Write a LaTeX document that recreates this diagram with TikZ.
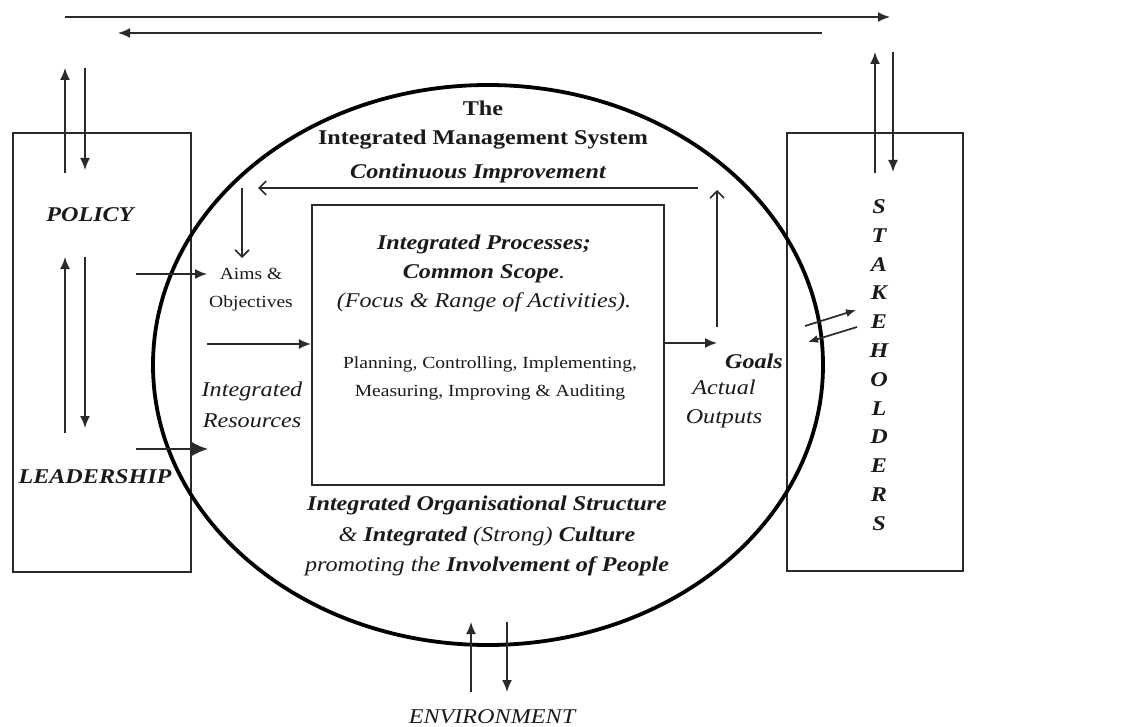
\documentclass[tikz,border=0pt]{standalone}
\usepackage{fontspec}
\setmainfont{Liberation Serif}[FakeStretch=1.15]
\usetikzlibrary{arrows.meta,shapes.geometric}
\newcommand\dgBig{\fontsize{21}{29}\selectfont}
\newcommand\dgSmall{\fontsize{17}{28}\selectfont}
\definecolor{ink}{HTML}{1A1A1A}
\definecolor{lin}{HTML}{2A2A2A}
\tikzset{
  ln/.style={line width=1.7pt, draw=lin},
  fa/.style={ln, -{Latex[length=12pt,width=10pt]}},
  oa/.style={ln, -{Straight Barb[length=7pt,width=14pt,line width=1.6pt]}},
  txt/.style={text=ink, inner sep=0pt, align=center},
}
\begin{document}
\begin{tikzpicture}[x=1pt,y=-1pt]
\useasboundingbox (0,0) rectangle (1139,727);
% boxes
\node[draw=lin, line width=2.2pt, minimum width=178pt, minimum height=439pt, inner sep=0pt] (lbox) at (102,352.5) {};
\node[draw=lin, line width=2.2pt, minimum width=176pt, minimum height=438pt, inner sep=0pt] (rbox) at (875,352) {};
\node[draw=lin, line width=2.2pt, minimum width=352pt, minimum height=280pt, inner sep=0pt] (ibox) at (488,345) {};
\node[draw=black, ellipse, line width=3.8pt, minimum width=670pt, minimum height=560pt, inner sep=0pt] (ims) at (488,365) {};
% texts
\node[txt, font=\dgBig\bfseries] (title) at (483,125) {The\\Integrated Management System};
\node[txt, font=\dgBig\bfseries\itshape] (ci) at (478,173) {Continuous Improvement};
\node[txt, font=\dgBig] (proc) at (484,273) {\textbf{\textit{Integrated Processes;}}\\\textbf{\textit{Common Scope}}\textit{.}\\\textit{(Focus \& Range of Activities).}};
\node[txt, font=\dgSmall] (plan) at (490,378) {Planning, Controlling, Implementing,\\Measuring, Improving \& Auditing};
\node[txt, font=\dgBig\bfseries\itshape] (policy) at (90,215) {POLICY};
\node[txt, font=\dgBig\bfseries\itshape] (lead) at (95,477) {LEADERSHIP};
\node[txt, font=\dgSmall] (aims) at (251,290) {Aims \&\\Objectives};
\node[txt, font=\fontsize{21}{31}\selectfont\itshape] (ires) at (252,405) {Integrated\\Resources};
\node[txt, font=\dgBig\bfseries\itshape] (goals) at (754,361) {Goals};
\node[txt, font=\dgBig\itshape] (actual) at (724,404) {Actual\\Outputs};
\node[txt, font=\fontsize{21}{28.8}\selectfont\bfseries\itshape] (stake) at (879,365) {S\\T\\A\\K\\E\\H\\O\\L\\D\\E\\R\\S};
\node[txt, font=\fontsize{21}{30.5}\selectfont] (culture) at (487,536) {\textbf{\textit{Integrated Organisational Structure}}\\\textit{\&} \textbf{\textit{Integrated}} \textit{(Strong)} \textbf{\textit{Culture}}\\\textit{promoting the} \textbf{\textit{Involvement of People}}};
\node[txt, font=\dgBig\itshape] (env) at (492,717) {ENVIRONMENT};
% top arrows
\coordinate (t1a) at (65,17); \coordinate (t1b) at (890,17);
\coordinate (t2a) at (822,33); \coordinate (t2b) at (118,33);
\draw[fa] (t1a) -- (t1b);
\draw[fa] (t2a) -- (t2b);
% left box arrows
\coordinate (l1a) at (65,173); \coordinate (l1b) at (65,68);
\coordinate (l2a) at (85,68); \coordinate (l2b) at (85,170);
\draw[fa] (l1a) -- (l1b);
\draw[fa] (l2a) -- (l2b);
\coordinate (l3a) at (65,433); \coordinate (l3b) at (65,257);
\coordinate (l4a) at (85,257); \coordinate (l4b) at (85,428);
\draw[fa] (l3a) -- (l3b);
\draw[fa] (l4a) -- (l4b);
% into the system
\coordinate (a1) at (136,274); \coordinate (a2) at (207,274);
\draw[fa] (a1) -- (a2);
\coordinate (r1) at (207,344);
\draw[fa] (r1) -- (ibox.west |- r1);
\coordinate (ld1) at (136,449); \coordinate (ld2) at (208,449);
\draw[ln, -{Latex[length=16pt,width=14pt]}] (ld1) -- (ld2);
% continuous improvement loop
\coordinate (c1) at (698,188); \coordinate (c2) at (258,188);
\draw[oa] (c1) -- (c2);
\coordinate (d1) at (242,188); \coordinate (d2) at (242,258);
\draw[oa] (d1) -- (d2);
\coordinate (g1) at (717,343);
\draw[fa] (ibox.east |- g1) -- (g1);
\coordinate (u1) at (717,327); \coordinate (u2) at (717,190);
\draw[oa] (u1) -- (u2);
% stakeholders exchange
\coordinate (s1a) at (805,326); \coordinate (s1b) at (856,310);
\coordinate (s2a) at (857,327); \coordinate (s2b) at (808,342);
\draw[ln, -{Latex[length=10pt,width=8pt]}] (s1a) -- (s1b);
\draw[ln, -{Latex[length=10pt,width=8pt]}] (s2a) -- (s2b);
\coordinate (r3a) at (875,173); \coordinate (r3b) at (875,52);
\coordinate (r4a) at (893,52); \coordinate (r4b) at (893,172);
\draw[fa] (r3a) -- (r3b);
\draw[fa] (r4a) -- (r4b);
% environment
\coordinate (e1a) at (471,692); \coordinate (e1b) at (471,622);
\coordinate (e2a) at (507,622); \coordinate (e2b) at (507,692);
\draw[fa] (e1a) -- (e1b);
\draw[fa] (e2a) -- (e2b);
\end{tikzpicture}
\end{document}
